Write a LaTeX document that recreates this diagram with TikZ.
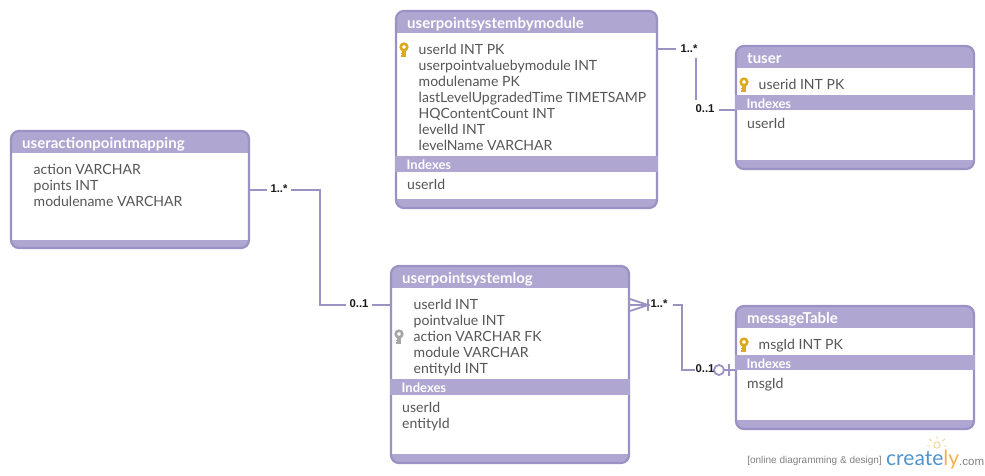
\documentclass[tikz,border=0pt]{standalone}
\usepackage{fontspec}
\setmainfont{Lato}
\newfontfamily\labelfont{Liberation Sans}
\usetikzlibrary{calc}
\definecolor{bandc}{HTML}{AFA7D2}
\definecolor{edgec}{HTML}{9B92C3}
\definecolor{textc}{HTML}{565656}
\definecolor{keyc}{HTML}{DDA91E}
\definecolor{keyg}{HTML}{A6A6A6}
\definecolor{logob}{HTML}{4F94CD}
\definecolor{logoo}{HTML}{F2B04F}
\tikzset{
  x=1pt,y=-1pt,
  tableedge/.style={draw=edgec,line width=2.2pt,rounded corners=8pt,inner sep=0,fill=none},
  conn/.style={draw=edgec,line width=1.8pt},
  title/.style={anchor=base west,inner sep=0,text=white,font=\fontsize{15}{16}\selectfont\bfseries},
  indexhead/.style={anchor=base west,inner sep=0,text=white,font=\fontsize{13}{14}\selectfont\bfseries},
  fields/.style={anchor=north west,inner sep=0,align=left,text=textc,font=\fontsize{14.05}{16}\selectfont},
  mult/.style={fill=white,inner sep=2.5pt,text=black!90,font=\labelfont\fontsize{11.3}{12}\selectfont\bfseries},
}
% name, x1,y1,x2,y2, header bottom, footer top
\newcommand{\tablebox}[7]{%
  \begin{scope}
    \clip[rounded corners=8pt] (#2,#3) rectangle (#4,#5);
    \fill[white] (#2,#3) rectangle (#4,#5);
    \fill[bandc] (#2,#3) rectangle (#4,#6);
    \fill[bandc] (#2,#7) rectangle (#4,#5);
  \end{scope}
  \node[tableedge,minimum width=#4pt-#2pt,minimum height=#5pt-#3pt] (#1) at ({(#2+#4)/2},{(#3+#5)/2}) {};
}
\newcommand{\indexband}[3]{\fill[bandc] (#1.west |- 0,#2) rectangle (#1.east |- 0,#3);}
% key icon: x, y of ring centre, colour
\newcommand{\keyicon}[3]{%
  \begin{scope}[shift={(#1,#2)}]
    \draw[#3,line width=2.6pt] (0,0) circle (3.3pt);
    \fill[#3] (-1.8,3) rectangle (1.8,9.5);
    \fill[#3] (-3.4,5.5) rectangle (0,7);
    \fill[#3] (-3.4,8) rectangle (0,9.5);
  \end{scope}}
\begin{document}
\begin{tikzpicture}
\useasboundingbox (0,0) rectangle (985,475);

\tablebox{map}{11}{131}{249}{248}{153}{240}
\tablebox{mod}{396}{11}{657}{208}{33}{199}
\tablebox{tuser}{736}{46}{974}{169}{68}{160}
\tablebox{log}{391}{266}{629}{463}{288}{454}
\tablebox{msg}{736}{306}{974}{429}{328}{420}
\indexband{mod}{156}{172}
\indexband{tuser}{95}{110}
\indexband{log}{379}{395}
\indexband{msg}{355}{370}

% connectors
\coordinate (mapout) at (map.east |- 0,190);
\coordinate (login) at (log.west |- 0,305);
\coordinate (modout) at (mod.east |- 0,49);
\coordinate (tuserin) at (tuser.west |- 0,110);
\coordinate (logout) at (log.east |- 0,305);
\coordinate (msgin) at (msg.west |- 0,370);

\draw[conn] (mapout) -- (320,190) -- (320,305) -- (login);
\node[mult,inner xsep=4pt] (m1) at (279,189) {1..*};
\node[mult,inner xsep=4pt] (m2) at (359,304) {0..1};

\draw[conn] (modout) -- (696,49) -- (696,110) -- (tuserin);
\node[mult,inner xsep=5pt,inner ysep=5pt] (m3) at (689,49) {1..*};
\node[mult,inner xsep=5pt,inner ysep=5pt] (m4) at (705,109) {0..1};

\draw[conn] (logout) -- (682,305) -- (682,370) -- (msgin);
\draw[conn] (logout |- 0,299) -- (648,305) -- (logout |- 0,311);
\fill[white] (649.5,296) rectangle (673,312);
\draw[conn] (648,299) -- (648,311);
\node[mult,inner xsep=1pt,fill=none] (m5) at (659,303.5) {1..*};
\node[mult,inner xsep=1pt] (m6) at (705,369) {0..1};
\draw[conn,fill=white] (719,370) circle (5pt);
\draw[conn] (729,364) -- (729,376);

% titles
\node[title] (t1) at (22,148) {useractionpointmapping};
\node[title] (t2) at (407,28) {userpointsystembymodule};
\node[title] (t3) at (747,63) {tuser};
\node[title] (t4) at (402,283) {userpointsystemlog};
\node[title] (t5) at (747,323) {messageTable};

% fields
\node[fields] (f1) at (33.5,164) {action VARCHAR\\points INT\\modulename VARCHAR};
\node[fields] (f2) at (418.5,44) {userId INT PK\\userpointvaluebymodule INT\\modulename PK\\lastLevelUpgradedTime TIMETSAMP\\HQContentCount INT\\levelId INT\\levelName VARCHAR};
\node[fields] (f3) at (758.5,79) {userid INT PK};
\node[fields] (f4) at (413.5,299) {userId INT\\pointvalue INT\\action VARCHAR FK\\module VARCHAR\\entityId INT};
\node[fields] (f5) at (758.5,339) {msgId INT PK};

% index sections
\node[indexhead] at (406.5,169) {Indexes};
\node[indexhead] at (746.5,108) {Indexes};
\node[indexhead] at (401.5,392) {Indexes};
\node[indexhead] at (746.5,368) {Indexes};
\node[fields] at (407,179) {userId};
\node[fields] at (747,118) {userId};
\node[fields] at (402,402) {userId\\entityId};
\node[fields] at (747,378) {msgId};

% keys
\keyicon{404}{47}{keyc}
\keyicon{744}{82}{keyc}
\keyicon{744}{342}{keyc}
\keyicon{399}{334}{keyg}

% logo
\node[anchor=base east,inner sep=0,text=black!50,font=\labelfont\fontsize{10}{11}\selectfont] (w1) at (882,463) {[online diagramming \& design]};
\node[anchor=base west,inner sep=0,font=\fontsize{21}{24}\selectfont] (w2) at (886,465) {\textcolor{logob}{create}\textcolor{logoo}{ly}};
\node[anchor=base west,inner sep=0,text=black!50,font=\labelfont\fontsize{11.5}{12}\selectfont] (w3) at (959,465) {.com};
\draw[logoo!60,line width=.9pt] (937,445) circle (3.2pt);
\draw[logoo!60,line width=.9pt] (937,436) -- (937,439) (929,439) -- (931.5,441) (945,439) -- (942.5,441) (927,446) -- (930,446) (947,446) -- (944,446);
\end{tikzpicture}
\end{document}
